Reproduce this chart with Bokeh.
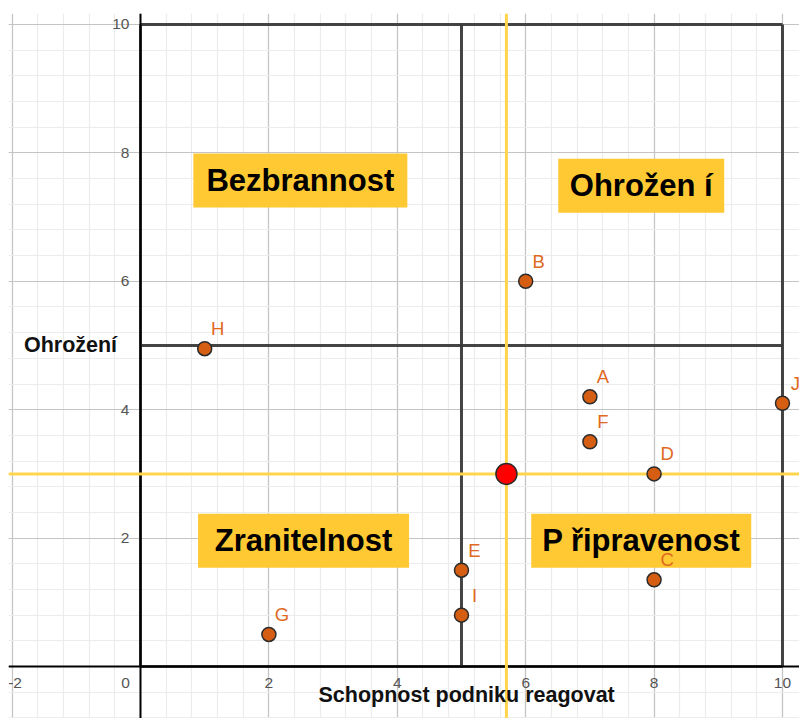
from bokeh.plotting import figure
from bokeh.models import Grid, SingleIntervalTicker, ColumnDataSource, Range1d
from bokeh.core.properties import value
from bokeh.embed import file_html
from bokeh.resources import INLINE

# ---- data ----
point_names = ["A", "B", "C", "D", "E", "F", "G", "H", "I", "J"]
point_x = [7, 6, 8, 8, 5, 7, 2, 1, 5, 10]
point_y = [4.2, 6, 1.35, 3, 1.5, 3.5, 0.5, 4.95, 0.8, 4.1]

center_x = [5.7]
center_y = [3]

quad_labels = ["Bezbrannost", "Ohrožen í", "Zranitelnost", "P řipravenost"]
quad_x = [2.49, 7.8, 2.54, 7.8]
quad_y = [7.57, 7.49, 1.96, 1.96]

x_ticks = [-2, 0, 2, 4, 6, 8, 10]
x_tick_labels = ["-2", "0", "2", "4", "6", "8", "10"]
y_ticks = [2, 4, 6, 8, 10]
y_tick_labels = ["2", "4", "6", "8", "10"]

grid_lo, grid_hi = 0, 10
split_x, split_y = 5, 5

x_title = "Schopnost podniku reagovat"
y_title = "Ohrožení"

# ---- figure ----
X0, X1 = -2.056, 10.265
Y0, Y1 = -0.810, 10.171
p = figure(width=799, height=718, output_backend="svg", toolbar_location=None,
           x_range=Range1d(X0, X1), y_range=Range1d(Y0, Y1),
           x_axis_location=None, y_axis_location=None,
           min_border_left=8, min_border_right=0, min_border_top=13, min_border_bottom=0)
p.outline_line_color = None
p.background_fill_color = "white"
p.border_fill_color = "white"

for dim in (0, 1):
    g = Grid(dimension=dim, ticker=SingleIntervalTicker(interval=2, num_minor_ticks=5))
    g.grid_line_color = "#c4c4c4"
    g.grid_line_width = 1.2
    g.minor_grid_line_color = "#ececec"
    g.minor_grid_line_width = 1.2
    g.level = "underlay"
    p.add_layout(g)

# rectangle + split lines
seg_x0 = [grid_lo, grid_lo, grid_hi, grid_lo, split_x, grid_lo]
seg_y0 = [grid_hi, grid_lo, grid_lo, grid_lo, grid_lo, split_y]
seg_x1 = [grid_hi, grid_hi, grid_hi, grid_lo, split_x, grid_hi]
seg_y1 = [grid_hi, grid_lo, grid_hi, grid_hi, grid_hi, split_y]
p.segment(seg_x0, seg_y0, seg_x1, seg_y1, line_color="#3a3a3a", line_width=3, line_alpha=0.95)

# axes
p.segment([X0], [0], [X1], [0], line_color="black", line_width=2)
p.segment([0], [Y0], [0], [Y1], line_color="black", line_width=2)

# mean cross (yellow)
p.segment([center_x[0]], [Y0], [center_x[0]], [Y1], line_color="#FFD54F", line_width=3)
p.segment([X0], [center_y[0]], [X1], [center_y[0]], line_color="#FFD54F", line_width=3)

# tick labels
xt_src = ColumnDataSource(dict(x=x_ticks, y=[0] * len(x_ticks), t=x_tick_labels,
                               dx=[-15 if v == 0 else (3 if v < 0 else 0) for v in x_ticks]))
p.text(x="x", y="y", text="t", source=xt_src, x_offset="dx", y_offset=17,
       text_align="center", text_baseline="middle", text_font=value("Liberation Sans"),
       text_font_size="15.5px", text_color="#555555")
p.text(x=[0] * len(y_ticks), y=y_ticks, text=y_tick_labels, x_offset=-11,
       text_align="right", text_baseline="middle", text_font=value("Liberation Sans"),
       text_font_size="15.5px", text_color="#555555")

# axis titles
p.text(x=[(grid_lo + grid_hi) / 2 + 0.08], y=[0], text=[x_title], y_offset=29,
       text_align="center", text_baseline="middle", text_font=value("Liberation Sans"),
       text_font_style="bold", text_font_size="21.5px", text_color="#111111")
p.text(x=[0], y=[split_y], text=[y_title], x_offset=-70,
       text_align="center", text_baseline="middle", text_font=value("Liberation Sans"),
       text_font_style="bold", text_font_size="21.5px", text_color="#111111")

# quadrant boxes
box_w = [214, 166, 211, 220]
p.rect(x=quad_x, y=quad_y, width=box_w, height=54, width_units="screen",
       height_units="screen", fill_color="#FFC933", line_color=None)
p.text(x=quad_x, y=quad_y, text=quad_labels, text_align="center", text_baseline="middle",
       text_font=value("Liberation Sans"), text_font_style="bold", text_font_size="31px",
       text_color="#000000")

# points
p.scatter(point_x, point_y, size=14, fill_color="#D55E13", line_color="#2b2b2b", line_width=1.5)
p.text(x=point_x, y=point_y, text=point_names, x_offset=13, y_offset=-20,
       text_align="center", text_baseline="middle", text_font=value("Liberation Sans"),
       text_font_size="18.5px", text_color="#E0691F")

p.scatter(center_x, center_y, size=21, fill_color="#FF0000", line_color="#2b2b2b", line_width=1.5)

open("out.html", "w").write(file_html(p, INLINE))
